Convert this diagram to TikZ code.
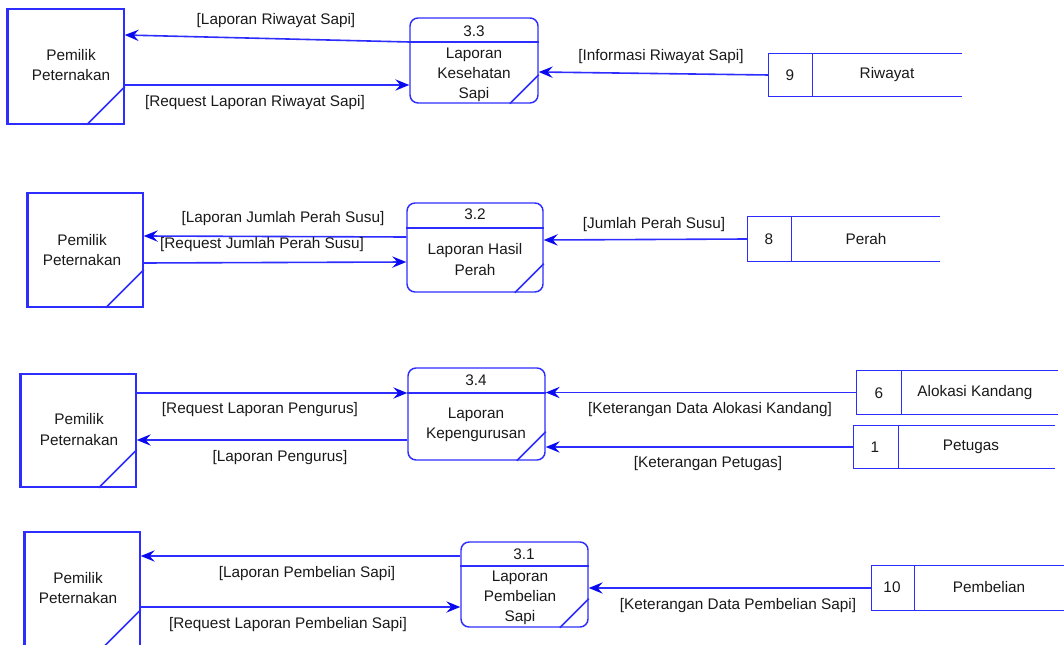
\documentclass[tikz,border=0pt]{standalone}
\usepackage{fontspec}
\setmainfont{Liberation Sans}
\usetikzlibrary{arrows.meta,calc}
\definecolor{dfdblue}{RGB}{45,45,255}
\definecolor{dfdtip}{RGB}{10,10,240}
\definecolor{dfdtext}{RGB}{25,25,25}
\begin{document}
\begin{tikzpicture}[x=0.75pt,y=-0.75pt,
  lbl/.style={text=dfdtext,font=\fontsize{11.5}{15.2}\selectfont,inner sep=0pt,align=center},
  entity/.style={draw=dfdblue,line width=1.1pt,inner sep=0pt},
  proc/.style={draw=dfdblue,line width=1.1pt,rounded corners=6pt,inner sep=0pt},
  store/.style={inner sep=0pt},
  flow/.style={draw=dfdblue,line width=1.2pt,-{Stealth[length=10.5pt,width=8.5pt,inset=3.8pt,color=dfdtip]}},
  edge/.style={draw=dfdblue,line width=1.1pt},
  thickedge/.style={draw=dfdblue,line width=2.3pt}]
\useasboundingbox (0,0) rectangle (1064,645);
\clip (0,0) rectangle (1064,645);

% ---------- external entities ----------
\node[entity,minimum width=87pt,minimum height=86.25pt] (e1) at (66,66.5) {};
\node[entity,minimum width=86.25pt,minimum height=85.5pt] (e2) at (85.5,250) {};
\node[entity,minimum width=86.25pt,minimum height=84.75pt] (e3) at (78.5,430.5) {};
\node[entity,minimum width=86.25pt,minimum height=86.25pt] (e4) at (82.5,589.5) {};
\foreach \e in {e1,e2,e3,e4}{
  \draw[thickedge] (\e.north west) -- (\e.south west);
  \draw[edge] ($(\e.south east)+(-38,0)$) -- ($(\e.south east)+(0,-38)$);
}
\node[lbl] (e1t) at (71,65) {Pemilik\\Peternakan};
\node[lbl] (e2t) at (82,250) {Pemilik\\Peternakan};
\node[lbl] (e3t) at (79,429.5) {Pemilik\\Peternakan};
\node[lbl] (e4t) at (78,588) {Pemilik\\Peternakan};

% ---------- processes ----------
\node[proc,minimum width=96pt,minimum height=63.75pt] (p33) at (474,60.5) {};
\node[proc,minimum width=102pt,minimum height=66.75pt] (p32) at (475,247.5) {};
\node[proc,minimum width=102.75pt,minimum height=69pt] (p34) at (476.5,414) {};
\node[proc,minimum width=95.25pt,minimum height=63.75pt] (p31) at (524.5,584.5) {};
\draw[edge] (p33.west |- 0,42) -- (p33.east |- 0,42);
\draw[edge] (p32.west |- 0,228) -- (p32.east |- 0,228);
\draw[edge] (p34.west |- 0,393) -- (p34.east |- 0,393);
\draw[edge] (p31.west |- 0,566) -- (p31.east |- 0,566);
\foreach \p in {p33,p32,p34,p31}{
  \draw[edge] ($(\p.south east)+(-29,0)$) -- ($(\p.south east)+(0,-29)$);
}
\node[lbl] (p33n) at (474,31) {3.3};
\node[lbl] (p33t) at (474,75) {Laporan\\Kesehatan\\Sapi};
\node[lbl] (p32n) at (475,214.5) {3.2};
\node[lbl] (p32t) at (475,259.5) {Laporan Hasil\\Perah};
\node[lbl] (p34n) at (476,380.5) {3.4};
\node[lbl] (p34t) at (476,425) {Laporan\\Kepengurusan};
\node[lbl] (p31n) at (524,554) {3.1};
\node[lbl] (p31t) at (520,598) {Laporan\\Pembelian\\Sapi};

% ---------- data stores ----------
\node[store,minimum width=144.75pt,minimum height=31.5pt] (s9) at (865.5,75) {};
\node[store,minimum width=144pt,minimum height=33pt] (s8) at (844,239) {};
\node[store,minimum width=150.75pt,minimum height=32.25pt] (s6) at (957.5,392.5) {};
\node[store,minimum width=150.75pt,minimum height=31.5pt] (s1) at (954.5,447) {};
\node[store,minimum width=144pt,minimum height=33pt] (s10) at (968,588) {};
\foreach \s/\d in {s9/44,s8/44,s6/45,s1/45,s10/43}{
  \draw[edge] (\s.north east) -- (\s.north west) -- (\s.south west) -- (\s.south east);
  \draw[edge] ($(\s.north west)+(\d,0)$) -- ($(\s.south west)+(\d,0)$);
}
\node[lbl] (s9n) at (790,75) {9};
\node[lbl] (s9t) at (887,75) {Riwayat};
\node[lbl] (s8n) at (769,239) {8};
\node[lbl] (s8t) at (866,239) {Perah};
\node[lbl] (s6n) at (879,393) {6};
\node[lbl] (s6t) at (975,393) {Alokasi Kandang};
\node[lbl] (s1n) at (875,447) {1};
\node[lbl] (s1t) at (971,447) {Petugas};
\node[lbl] (s10n) at (892,587) {10};
\node[lbl] (s10t) at (989,587) {Pembelian};

% ---------- data flows ----------
\draw[flow] (p33.west |- 0,42) -- (e1.east |- 0,35);
\draw[flow] (e1.east |- 0,85) -- (p33.west |- 0,85);
\draw[flow] (s9.west) -- (p33.east |- 0,72);
\draw[flow] (p32.west |- 0,237) -- (e2.east |- 0,236);
\draw[flow] (e2.east |- 0,263) -- (p32.west |- 0,262);
\draw[flow] (s8.west) -- (p32.east |- 0,240);
\draw[flow] (e3.east |- 0,393) -- (p34.west |- 0,393);
\draw[flow] (p34.west |- 0,440) -- (e3.east |- 0,440);
\draw[flow] (s6.west) -- (p34.east |- s6.west);
\draw[flow] (s1.west) -- (p34.east |- s1.west);
\draw[flow] (p31.west |- 0,556) -- (e4.east |- 0,556);
\draw[flow] (e4.east |- 0,607) -- (p31.west |- 0,607);
\draw[flow] (s10.west) -- (p31.east |- s10.west);

% ---------- flow labels ----------
\node[lbl] (f1) at (276,20.5) {[Laporan Riwayat Sapi]};
\node[lbl] (f2) at (255,102.5) {[Request Laporan Riwayat Sapi]};
\node[lbl] (f3) at (661,56.5) {[Informasi Riwayat Sapi]};
\node[lbl] (f4) at (283,218.5) {[Laporan Jumlah Perah Susu]};
\node[lbl] (f5) at (262,244.5) {[Request Jumlah Perah Susu]};
\node[lbl] (f6) at (654,224.5) {[Jumlah Perah Susu]};
\node[lbl] (f7) at (260,409.5) {[Request Laporan Pengurus]};
\node[lbl] (f8) at (280,457.5) {[Laporan Pengurus]};
\node[lbl] (f9) at (710,409.5) {[Keterangan Data Alokasi Kandang]};
\node[lbl] (f10) at (708,463.5) {[Keterangan Petugas]};
\node[lbl] (f11) at (307,573.5) {[Laporan Pembelian Sapi]};
\node[lbl] (f12) at (288,624.5) {[Request Laporan Pembelian Sapi]};
\node[lbl] (f13) at (738,605.5) {[Keterangan Data Pembelian Sapi]};
\end{tikzpicture}
\end{document}
